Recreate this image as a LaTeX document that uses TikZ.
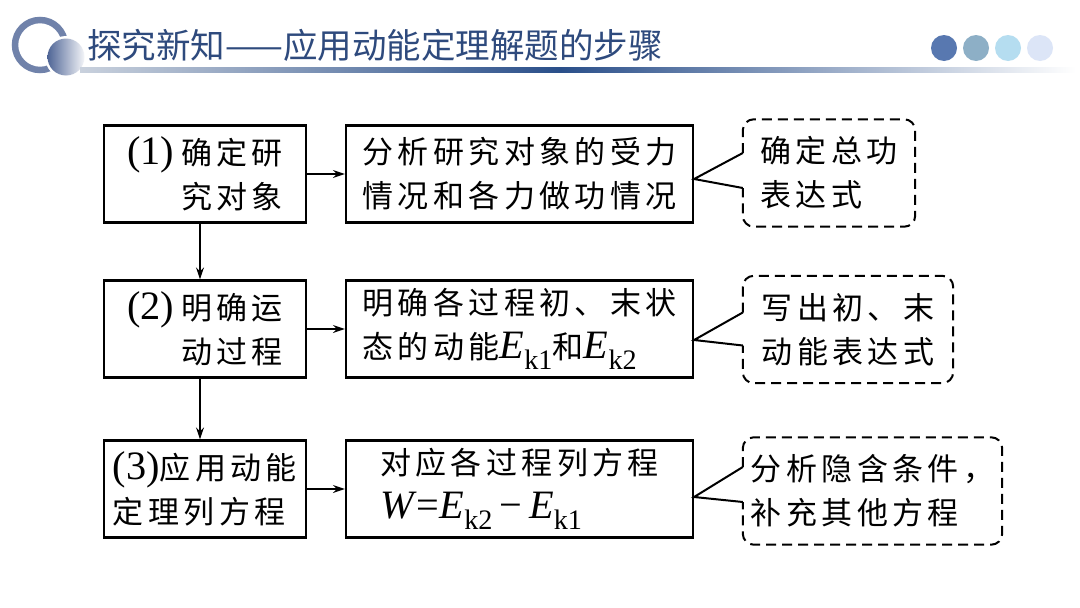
\documentclass[tikz,border=0pt]{standalone}
\usepackage{fontspec}
\setmainfont[Scale=1.3]{Liberation Serif}
\newfontfamily\cjk[LetterSpace=14]{Noto Sans CJK SC}
\newfontfamily\titlefont{Noto Sans CJK SC}
\usetikzlibrary{arrows.meta,calc}
\definecolor{titleblue}{HTML}{2E4A7D}
\definecolor{ringblue}{HTML}{7082AA}
\definecolor{sphereblue}{HTML}{4F6596}
\definecolor{lineblue}{HTML}{2A4F8A}
\definecolor{linelight}{HTML}{C9D1DD}
\definecolor{dotA}{HTML}{5878B0}
\definecolor{dotB}{HTML}{8DAFC6}
\definecolor{dotC}{HTML}{B5DDF0}
\definecolor{dotD}{HTML}{DCE5F7}
\newcommand{\Ekin}[1]{\textit{E}\textsubscript{k#1}}
\tikzset{
  txt/.style={font=\fontsize{31}{44}\selectfont, inner sep=0pt},
  stepbox/.style={txt, draw, line width=2.2pt, minimum height=97pt},
  callout/.style={txt, minimum height=107pt},
  outline/.style={dashed, dash pattern=on 10pt off 6pt, line width=2pt, rounded corners=11pt},
  pointer/.style={line width=2pt},
  flow/.style={line width=1.6pt, -{Stealth[length=12pt,width=8pt]}}
}
\begin{document}
\begin{tikzpicture}[x=1pt,y=-1pt]
\path[use as bounding box, fill=white] (0,0) rectangle (1080,608);
% header
\draw[ringblue, line width=6.5pt] (40,45) coordinate (ringc) circle (25);
\fill[white] (66,57) circle (21);
\shade[left color=sphereblue, right color=white!94!sphereblue] (66,57) coordinate (spherec) circle (18.5);
\shade[left color=linelight, right color=lineblue] (80,67) rectangle (560,72);
\shade[left color=lineblue, right color=white] (560,67) rectangle (1076,72);
\node[anchor=west, inner sep=0pt, text=titleblue, font=\titlefont\fontsize{34.5}{34.5}\selectfont] (title) at (87,45) {探究新知——应用动能定理解题的步骤};
\fill[dotA] (944,48) coordinate (d1) circle (13);
\fill[dotB] (976,48) coordinate (d2) circle (13);
\fill[dotC] (1008,48) coordinate (d3) circle (13);
\fill[dotD] (1040,48) coordinate (d4) circle (13);
% column 1
\node[stepbox, minimum width=202pt, align=right] (a1) at (205,174) {(1)\,{\cjk 确定研}\\{\cjk 究对象}};
\node[stepbox, minimum width=202pt, align=right] (a2) at (205,329) {(2)\,{\cjk 明确运}\\{\cjk 动过程}};
\node[stepbox, minimum width=202pt, align=left] (a3) at (205,489) {(3){\cjk 应用动能}\\{\cjk 定理列方程}};
% column 2
\node[stepbox, minimum width=347pt, align=left] (b1) at (519.5,174) {{\cjk 分析研究对象的受力}\\{\cjk 情况和各力做功情况}};
\node[stepbox, minimum width=347pt, align=left] (b2) at (519.5,329) {{\cjk 明确各过程初、末状}\\{\cjk 态的动能}\Ekin{1}{\cjk 和}\Ekin{2}};
\node[stepbox, minimum width=347pt, align=left] (b3) at (519.5,489) {{\cjk 对应各过程列方程}\\\textit{W}=\Ekin{2}\,−\,\Ekin{1}\hspace{40pt}};
% column 3
\node[callout, minimum width=172pt, align=left] (c1) at (829,173) {{\cjk 确定总功}\\{\cjk 表达式}};
\node[callout, minimum width=210pt, align=left] (c2) at (848,329.5) {{\cjk 写出初、末}\\{\cjk 动能表达式}};
\node[callout, minimum width=259pt, align=left] (c3) at (872.5,491) {{\cjk 分析隐含条件，}\\{\cjk 补充其他方程}};
% callout outlines
\foreach \c/\up/\lo in {c1/20/15, c2/17/16, c3/24/11}{
  \draw[outline] ($(\c.west)+(0,-\up)$) -- (\c.north west) -- (\c.north east) -- (\c.south east) -- (\c.south west) -- ($(\c.west)+(0,\lo)$);
}
\foreach \b/\c/\up/\lo/\t in {b1/c1/20/15/5, b2/c2/17/16/11, b3/c3/24/11/8}{
  \draw[pointer] ($(\c.west)+(0,-\up)$) -- ($(\b.east)+(0,\t)$) -- ($(\c.west)+(0,\lo)$);
}
% arrows
\draw[flow] (a1.east) -- (b1.west);
\draw[flow] (a2.east) -- (b2.west);
\draw[flow] (a3.east) -- (b3.west);
\draw[flow] ([xshift=-5pt]a1.south) -- ([xshift=-5pt]a2.north);
\draw[flow] ([xshift=-5pt]a2.south) -- ([xshift=-5pt]a3.north);
\end{tikzpicture}
\end{document}
